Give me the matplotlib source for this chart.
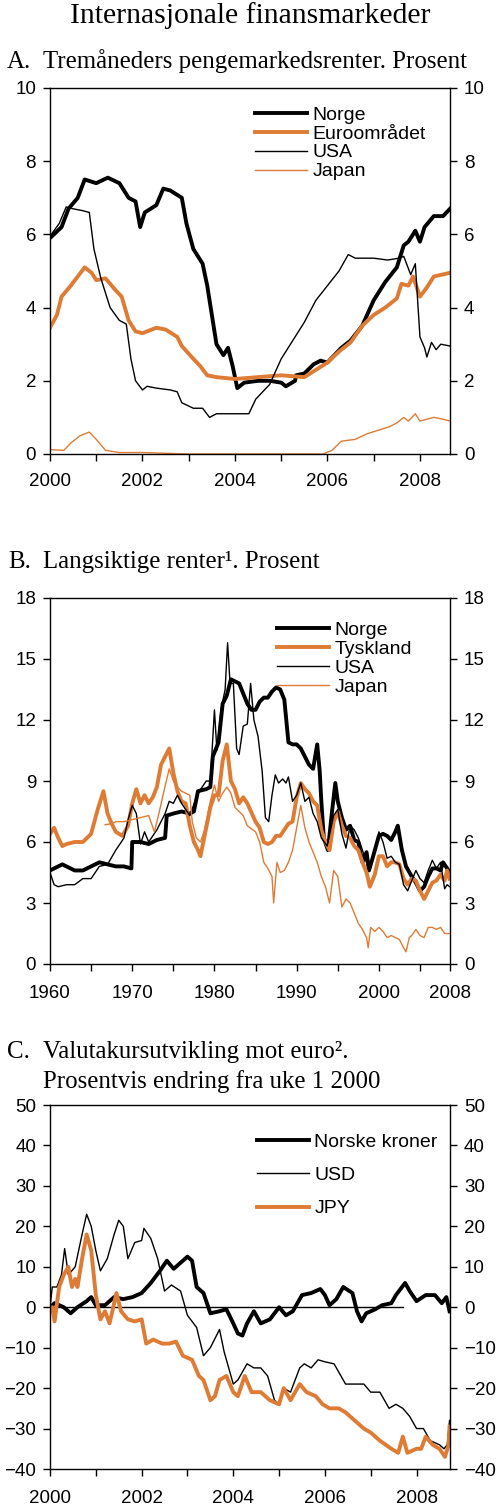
import numpy as np
import matplotlib.pyplot as plt

ORANGE = '#DE7B35'

# ---------- Panel A: tremåneders pengemarkedsrenter ----------
a_norge_x = [2000.0, 2000.25, 2000.4, 2000.6, 2000.75, 2001.0, 2001.25, 2001.5, 2001.7, 2001.85,
             2001.95, 2002.05, 2002.3, 2002.45, 2002.6, 2002.85, 2002.95, 2003.1, 2003.3, 2003.4,
             2003.5, 2003.6, 2003.75, 2003.85, 2003.95, 2004.05, 2004.2, 2004.5, 2004.75, 2005.0,
             2005.1, 2005.3, 2005.32, 2005.5, 2005.7, 2005.85, 2006.0, 2006.3, 2006.5, 2006.75,
             2007.0, 2007.25, 2007.5, 2007.65, 2007.75, 2007.9, 2008.0, 2008.1, 2008.3, 2008.5,
             2008.65]
a_norge = [5.9, 6.2, 6.7, 7.0, 7.5, 7.4, 7.55, 7.4, 7.0, 6.9,
           6.2, 6.6, 6.8, 7.25, 7.2, 7.0, 6.3, 5.6, 5.2, 4.6,
           3.8, 3.0, 2.7, 2.9, 2.4, 1.8, 1.95, 2.0, 2.0, 1.95,
           1.85, 2.0, 2.15, 2.2, 2.45, 2.55, 2.5, 2.9, 3.1, 3.5,
           4.2, 4.7, 5.1, 5.7, 5.8, 6.1, 5.8, 6.2, 6.5, 6.5,
           6.7]

a_euro_x = [2000.0, 2000.15, 2000.25, 2000.45, 2000.6, 2000.75, 2000.9, 2001.0, 2001.2, 2001.4,
            2001.55, 2001.7, 2001.85, 2002.0, 2002.3, 2002.5, 2002.75, 2002.85, 2003.1, 2003.25,
            2003.4, 2003.6, 2004.0, 2004.5, 2005.0, 2005.5, 2005.75, 2006.0, 2006.25, 2006.5,
            2006.75, 2007.0, 2007.25, 2007.5, 2007.6, 2007.75, 2007.85, 2008.0, 2008.15, 2008.3,
            2008.65]
a_euro = [3.45, 3.8, 4.3, 4.6, 4.85, 5.1, 4.95, 4.75, 4.8, 4.5,
          4.3, 3.65, 3.35, 3.3, 3.45, 3.4, 3.2, 2.95, 2.6, 2.4,
          2.15, 2.1, 2.05, 2.1, 2.15, 2.1, 2.3, 2.5, 2.8, 3.05,
          3.5, 3.8, 4.0, 4.25, 4.65, 4.6, 4.85, 4.3, 4.55, 4.85,
          4.95]

a_usa_x = [2000.0, 2000.2, 2000.35, 2000.5, 2000.7, 2000.85, 2000.95, 2001.1, 2001.3, 2001.5,
           2001.65, 2001.75, 2001.85, 2002.0, 2002.1, 2002.3, 2002.6, 2002.75, 2002.85, 2003.1,
           2003.3, 2003.45, 2003.6, 2004.0, 2004.3, 2004.45, 2004.75, 2005.0, 2005.25, 2005.5,
           2005.75, 2006.0, 2006.25, 2006.45, 2006.6, 2007.0, 2007.3, 2007.55, 2007.65, 2007.8,
           2007.9, 2008.0, 2008.1, 2008.15, 2008.25, 2008.35, 2008.45, 2008.65]
a_usa = [5.95, 6.3, 6.75, 6.7, 6.65, 6.6, 5.6, 4.8, 4.0, 3.65,
         3.55, 2.6, 2.0, 1.75, 1.85, 1.8, 1.75, 1.7, 1.4, 1.25,
         1.25, 1.0, 1.1, 1.1, 1.1, 1.5, 1.9, 2.6, 3.1, 3.6,
         4.2, 4.6, 5.0, 5.45, 5.35, 5.35, 5.3, 5.35, 5.4, 4.9,
         5.2, 3.2, 2.9, 2.65, 3.05, 2.85, 3.0, 2.95]

a_japan_x = [2000.0, 2000.3, 2000.45, 2000.65, 2000.85, 2001.0, 2001.2, 2001.5, 2002.0, 2003.0,
             2004.0, 2005.0, 2005.9, 2006.1, 2006.3, 2006.6, 2006.85, 2007.1, 2007.35, 2007.5,
             2007.65, 2007.75, 2007.9, 2008.0, 2008.3, 2008.5, 2008.65]
a_japan = [0.12, 0.1, 0.3, 0.5, 0.6, 0.4, 0.1, 0.04, 0.04, 0.0,
           0.0, 0.0, 0.0, 0.1, 0.35, 0.4, 0.55, 0.65, 0.75, 0.85,
           1.0, 0.9, 1.1, 0.9, 1.0, 0.95, 0.9]

# ---------- Panel B: langsiktige renter ----------
b_norge_x = [1960.0, 1961.5, 1962, 1963, 1964, 1965, 1966, 1967, 1968, 1969,
             1969.9, 1970.0, 1971, 1972, 1973, 1974, 1974.2, 1975, 1976, 1977,
             1977.5, 1978, 1979, 1979.5, 1979.8, 1980.5, 1981, 1981.5, 1982, 1982.5,
             1983, 1983.5, 1984, 1984.5, 1985, 1985.5, 1986, 1986.5, 1987, 1987.5,
             1988, 1988.5, 1989, 1989.5, 1990, 1990.5, 1991, 1991.5, 1992, 1992.5,
             1992.8, 1993, 1993.3, 1993.8, 1994.3, 1994.7, 1995, 1995.5, 1996, 1996.5,
             1997, 1997.5, 1998, 1998.5, 1998.8, 1999.3, 2000, 2000.5, 2001, 2001.5,
             2002, 2002.3, 2002.8, 2003.3, 2004, 2004.5, 2005, 2005.5, 2006, 2006.5,
             2007, 2007.5, 2007.8, 2008.3, 2008.6]
b_norge = [4.6, 4.9, 4.8, 4.6, 4.6, 4.8, 5.0, 4.9, 4.8, 4.8,
           4.7, 6.0, 6.0, 5.9, 6.1, 6.2, 7.3, 7.4, 7.5, 7.4,
           7.5, 8.5, 8.6, 8.7, 10.2, 10.9, 12.8, 13.2, 14.0, 13.9,
           13.8, 13.3, 12.8, 12.5, 12.5, 12.9, 13.1, 13.1, 13.4, 13.6,
           13.5, 13.0, 10.9, 10.8, 10.8, 10.6, 10.2, 9.8, 9.6, 10.8,
           9.5, 8.0, 6.2, 5.6, 7.5, 8.9, 8.0, 7.2, 6.6, 6.8,
           6.1, 6.0, 5.0, 5.5, 4.6, 5.3, 6.3, 6.4, 6.3, 6.1,
           6.5, 6.8, 5.6, 4.8, 4.3, 4.0, 3.6, 3.8, 4.3, 4.7,
           4.7, 4.6, 5.0, 4.7, 4.5]

b_tysk_x = [1960.0, 1960.5, 1961, 1961.5, 1962, 1963, 1964, 1965, 1965.8, 1966.5,
            1967, 1967.5, 1968, 1968.8, 1969.5, 1970, 1970.5, 1971, 1971.5, 1972,
            1972.5, 1973, 1973.5, 1974, 1974.5, 1975, 1975.5, 1976, 1976.5, 1977,
            1977.5, 1978, 1978.3, 1978.8, 1979.5, 1980, 1980.5, 1981, 1981.5, 1982,
            1982.5, 1983, 1983.5, 1984, 1985, 1985.5, 1986, 1986.5, 1987, 1987.5,
            1988, 1988.5, 1989, 1989.5, 1990, 1990.5, 1991, 1991.5, 1992, 1992.5,
            1993, 1993.5, 1994, 1994.5, 1995, 1995.5, 1996, 1996.5, 1997, 1997.5,
            1998, 1998.5, 1998.9, 1999.5, 2000, 2000.5, 2001, 2001.5, 2002, 2002.5,
            2003, 2003.5, 2004, 2004.5, 2005, 2005.5, 2006, 2006.5, 2007, 2007.5,
            2008, 2008.3, 2008.6]
b_tysk = [6.4, 6.7, 6.2, 5.8, 5.9, 6.0, 6.0, 6.4, 7.6, 8.5,
          7.4, 6.9, 6.5, 6.3, 6.8, 7.9, 8.6, 7.9, 8.3, 7.9,
          8.2, 8.7, 9.8, 10.2, 10.6, 9.4, 8.5, 8.0, 7.9, 6.8,
          6.0, 5.6, 5.3, 6.3, 7.7, 8.3, 8.3, 10.0, 10.8, 9.0,
          8.6, 7.9, 8.2, 7.9, 7.0, 6.7, 6.0, 5.9, 6.0, 6.3,
          6.3, 6.6, 6.9, 7.0, 8.2, 8.9, 8.6, 8.4, 8.0, 7.8,
          6.6, 6.0, 5.6, 7.0, 7.5, 6.8, 6.3, 6.2, 5.8, 5.6,
          5.0, 4.5, 3.8, 4.4, 5.3, 5.3, 4.8, 5.0, 5.0, 4.9,
          4.2, 3.9, 4.2, 4.1, 3.6, 3.2, 3.6, 4.0, 4.1, 4.4,
          4.1, 4.6, 4.2]

b_usa_x = [1960.0, 1960.5, 1961, 1962, 1963, 1964, 1965, 1966, 1967, 1968,
           1969, 1969.5, 1970, 1970.5, 1971, 1971.5, 1972, 1973, 1974, 1974.5,
           1975, 1975.5, 1976, 1977, 1978, 1979, 1979.5, 1980, 1980.3, 1980.8,
           1981.3, 1981.6, 1981.9, 1982.3, 1982.7, 1983, 1983.5, 1984, 1984.4, 1984.8,
           1985.3, 1985.8, 1986.2, 1986.6, 1987, 1987.4, 1987.8, 1988.3, 1988.7, 1989,
           1989.5, 1990, 1990.5, 1991, 1991.5, 1992, 1992.5, 1993, 1993.7, 1994.5,
           1995, 1995.5, 1996, 1996.5, 1997, 1997.5, 1998, 1998.8, 1999.5, 2000,
           2000.5, 2001, 2001.5, 2002, 2002.5, 2003, 2003.5, 2004, 2004.5, 2005,
           2005.5, 2006, 2006.5, 2007, 2007.5, 2008, 2008.3, 2008.6]
b_usa = [4.5, 3.9, 3.8, 3.9, 3.9, 4.2, 4.2, 4.8, 4.9, 5.6,
         6.2, 7.1, 7.8, 7.4, 5.9, 6.5, 6.0, 6.6, 7.4, 8.0,
         7.9, 8.3, 7.9, 7.3, 8.4, 9.0, 9.0, 12.5, 10.5, 12.5,
         13.5, 15.8, 13.8, 13.8, 10.6, 10.3, 11.7, 11.8, 13.8, 12.0,
         11.2, 9.5, 7.2, 7.0, 8.3, 9.3, 8.9, 9.1, 8.9, 9.2,
         8.0, 8.3, 8.9, 8.0, 8.2, 7.4, 7.0, 6.2, 5.8, 7.3,
         7.6, 6.4, 5.7, 6.8, 6.6, 6.2, 5.6, 4.6, 5.6, 6.5,
         6.0, 5.2, 5.3, 5.0, 4.9, 3.9, 3.6, 4.1, 4.6, 4.2,
         4.0, 4.6, 5.1, 4.7, 5.0, 3.7, 3.9, 3.8]

b_japan_x = [1966.7, 1967.5, 1968, 1969, 1970, 1971, 1972, 1972.7, 1973.3, 1973.8,
             1974.5, 1975, 1975.5, 1976, 1977, 1977.3, 1977.8, 1978.3, 1978.8, 1979.5,
             1980, 1980.5, 1981, 1981.5, 1982, 1982.5, 1983, 1983.5, 1984, 1985,
             1985.5, 1986, 1986.5, 1987, 1987.2, 1987.6, 1988, 1988.5, 1989, 1989.5,
             1990, 1990.5, 1991, 1991.5, 1992, 1992.5, 1993, 1993.5, 1994, 1994.5,
             1995, 1995.5, 1996, 1996.5, 1997, 1997.5, 1998, 1998.5, 1998.7, 1999,
             1999.5, 2000, 2000.5, 2001, 2001.5, 2002, 2002.5, 2003, 2003.3, 2003.7,
             2004, 2004.5, 2005, 2005.5, 2006, 2006.5, 2007, 2007.5, 2008, 2008.6]
b_japan = [6.85, 6.9, 7.0, 7.0, 7.1, 7.2, 7.3, 6.5, 7.5, 8.4,
           9.6, 9.0, 8.7, 8.5, 8.3, 7.0, 6.2, 6.0, 6.6, 8.0,
           8.8, 8.0, 8.4, 8.7, 8.4, 7.7, 7.5, 7.3, 6.8, 6.5,
           6.0, 5.0, 4.7, 4.3, 3.0, 5.0, 4.5, 4.6, 5.0, 5.6,
           6.7, 7.8, 6.7, 6.0, 5.5, 5.0, 4.3, 3.8, 3.0, 4.6,
           4.3, 2.8, 3.2, 3.0, 2.5, 2.0, 1.7, 1.3, 0.8, 1.8,
           1.6, 1.8, 1.6, 1.3, 1.4, 1.3, 1.2, 0.8, 0.6, 1.3,
           1.4, 1.7, 1.4, 1.3, 1.8, 1.8, 1.7, 1.8, 1.5, 1.5]

# ---------- Panel C: valutakursutvikling mot euro ----------
c_nok_x = [2000.0, 2000.1, 2000.3, 2000.45, 2000.6, 2000.8, 2000.9, 2001.0, 2001.2, 2001.4,
           2001.6, 2001.8, 2002.0, 2002.2, 2002.4, 2002.55, 2002.7, 2002.85, 2003.0, 2003.1,
           2003.2, 2003.35, 2003.5, 2003.7, 2003.85, 2004.0, 2004.1, 2004.2, 2004.3, 2004.45,
           2004.6, 2004.8, 2005.0, 2005.15, 2005.3, 2005.5, 2005.7, 2005.9, 2006.0, 2006.1,
           2006.25, 2006.4, 2006.6, 2006.7, 2006.8, 2006.9, 2007.1, 2007.25, 2007.45, 2007.55,
           2007.75, 2007.85, 2008.0, 2008.2, 2008.4, 2008.55, 2008.65, 2008.72]
c_nok = [0.0, 1.0, 0.0, -1.5, 0.0, 1.5, 2.5, 0.5, 0.5, 2.5,
         2.0, 2.5, 3.5, 6.0, 9.0, 11.5, 9.5, 11.0, 12.5, 11.5,
         5.0, 3.5, -1.5, -1.0, -0.5, -4.0, -6.5, -7.0, -4.0, -1.0,
         -4.0, -3.0, 0.0, -2.0, -1.0, 3.0, 3.5, 4.5, 3.0, 0.5,
         2.0, 5.0, 3.5, -1.0, -3.5, -1.5, -0.5, 0.5, 1.0, 3.0,
         6.0, 4.0, 1.5, 3.0, 3.0, 1.0, 2.5, -1.0]

c_usd_x = [2000.0, 2000.05, 2000.15, 2000.25, 2000.32, 2000.4, 2000.55, 2000.7, 2000.8, 2000.9,
           2001.0, 2001.1, 2001.25, 2001.4, 2001.5, 2001.6, 2001.7, 2001.85, 2002.0, 2002.05,
           2002.2, 2002.35, 2002.5, 2002.65, 2002.85, 2003.0, 2003.2, 2003.35, 2003.5, 2003.7,
           2003.8, 2003.9, 2004.0, 2004.1, 2004.3, 2004.45, 2004.6, 2004.75, 2004.9, 2005.0,
           2005.1, 2005.25, 2005.45, 2005.55, 2005.7, 2005.85, 2006.0, 2006.2, 2006.35, 2006.45,
           2006.7, 2006.85, 2007.0, 2007.2, 2007.4, 2007.55, 2007.7, 2007.85, 2008.0, 2008.15,
           2008.3, 2008.5, 2008.6, 2008.67, 2008.72]
c_usd = [0.0, 5.0, 5.0, 8.0, 14.5, 8.0, 10.0, 18.0, 23.0, 20.0,
         14.0, 9.0, 12.0, 18.0, 21.5, 20.0, 12.0, 16.0, 16.5, 19.5,
         17.0, 12.0, 4.0, 5.5, 4.0, -2.0, -5.0, -12.0, -10.0, -5.5,
         -11.0, -15.0, -19.0, -18.0, -14.0, -15.0, -15.0, -17.0, -23.0, -24.0,
         -20.0, -21.0, -15.0, -14.0, -15.0, -13.0, -13.5, -14.0, -17.0, -19.0,
         -19.0, -19.0, -21.0, -21.0, -25.0, -24.0, -25.0, -27.0, -30.0, -30.0,
         -33.0, -34.0, -35.0, -34.0, -28.0]

c_jpy_x = [2000.0, 2000.05, 2000.1, 2000.2, 2000.3, 2000.4, 2000.48, 2000.55, 2000.6, 2000.7,
           2000.8, 2000.9, 2001.0, 2001.1, 2001.2, 2001.3, 2001.45, 2001.55, 2001.7, 2001.85,
           2002.0, 2002.1, 2002.25, 2002.45, 2002.6, 2002.75, 2002.9, 2003.1, 2003.25, 2003.35,
           2003.5, 2003.6, 2003.7, 2003.85, 2004.0, 2004.1, 2004.25, 2004.4, 2004.6, 2004.8,
           2005.0, 2005.1, 2005.25, 2005.45, 2005.6, 2005.8, 2005.95, 2006.1, 2006.3, 2006.45,
           2006.65, 2006.85, 2007.0, 2007.2, 2007.45, 2007.6, 2007.7, 2007.8, 2008.0, 2008.1,
           2008.2, 2008.35, 2008.5, 2008.62, 2008.7, 2008.72]
c_jpy = [-1.0, 0.0, -3.5, 5.0, 8.0, 10.0, 5.0, 7.0, 5.0, 12.0,
         18.0, 14.0, 3.0, -3.0, -1.0, -4.0, 3.5, -1.0, -3.0, -3.5,
         -3.0, -9.0, -8.0, -9.0, -9.0, -8.5, -12.0, -13.0, -17.0, -18.0,
         -23.0, -22.0, -18.0, -17.0, -21.0, -22.0, -17.0, -21.0, -21.0, -23.0,
         -24.0, -20.0, -23.0, -19.0, -21.0, -22.0, -24.0, -25.0, -25.0, -26.0,
         -28.0, -30.0, -31.0, -33.0, -35.0, -36.0, -32.0, -36.0, -35.0, -35.0,
         -32.0, -34.0, -35.0, -37.0, -34.0, -29.5]

c_zero_x = [2000.0, 2007.71]
c_zero = [0.0, 0.0]

plt.rcParams['font.family'] = ['Liberation Sans', 'DejaVu Sans']
SERIF = ['Liberation Serif', 'DejaVu Serif']

fig = plt.figure(figsize=(5, 15.11), dpi=100)
W, H = 500, 1511

TICK_FS = 13.5
LEG_FS = 14
SUB_FS = 17.9


def make_axes(top_px, bottom_px):
    return fig.add_axes([50 / W, 1 - bottom_px / H, 400 / W, (bottom_px - top_px) / H])


def style_axes(ax, xpad):
    for s in ax.spines.values():
        s.set_linewidth(1.0)
    ax.tick_params(axis='y', which='both', direction='out', length=5, width=1.0,
                   left=True, right=True, labelleft=True, labelright=True,
                   labelsize=TICK_FS, pad=5)
    ax.tick_params(axis='x', which='both', direction='out', length=5, width=1.0,
                   labelsize=TICK_FS, pad=xpad, top=False)


def add_legend(ax, x, y, spacing):
    ax.legend(loc='upper left', bbox_to_anchor=(x, y), frameon=False, fontsize=LEG_FS,
              handlelength=2.65, handletextpad=0.3, labelspacing=spacing,
              borderpad=0, borderaxespad=0)


thick = 2.8
thin = 1.0

# Title
fig.text(0.5, 1 - 16 / H, 'Internasjonale finansmarkeder', ha='center', va='center',
         fontsize=21.4, family=SERIF)

# Panel A
axA = make_axes(88, 454)
axA.plot(a_norge_x, a_norge, color='black', lw=thick, label='Norge')
axA.plot(a_euro_x, a_euro, color=ORANGE, lw=thick, label='Euroområdet')
axA.plot(a_usa_x, a_usa, color='black', lw=thin, label='USA')
axA.plot(a_japan_x, a_japan, color=ORANGE, lw=thin, label='Japan')
axA.set_xlim(2000, 2008.65)
axA.set_ylim(0, 10)
axA.set_yticks(np.arange(0, 11, 2))
axA.set_xticks(np.arange(2000, 2009, 1))
axA.set_xticklabels([str(y) if y % 2 == 0 else '' for y in range(2000, 2009)])
style_axes(axA, 8.5)
add_legend(axA, 0.5125, 0.951, 0.07)
fig.text(7 / W, 1 - 68 / H, 'A.', fontsize=SUB_FS, family=SERIF, va='baseline')
fig.text(43 / W, 1 - 68 / H, 'Tremåneders pengemarkedsrenter. Prosent', fontsize=SUB_FS,
         family=SERIF, va='baseline')

# Panel B
axB = make_axes(598, 964)
axB.plot(b_norge_x, b_norge, color='black', lw=thick, label='Norge')
axB.plot(b_tysk_x, b_tysk, color=ORANGE, lw=thick, label='Tyskland')
axB.plot(b_usa_x, b_usa, color='black', lw=thin, label='USA')
axB.plot(b_japan_x, b_japan, color=ORANGE, lw=thin, label='Japan')
axB.set_xlim(1960, 2008.65)
axB.set_ylim(0, 18)
axB.set_yticks(np.arange(0, 19, 3))
b_ticks = [1960, 1965, 1970, 1975, 1980, 1985, 1990, 1995, 2000, 2005, 2008.65]
b_labels = ['1960', '', '1970', '', '1980', '', '1990', '', '2000', '', '2008']
axB.set_xticks(b_ticks)
axB.set_xticklabels(b_labels)
style_axes(axB, 10)
add_legend(axB, 0.5675, 0.937, 0.07)
fig.text(8 / W, 1 - 568 / H, 'B.', fontsize=SUB_FS, family=SERIF, va='baseline')
fig.text(43 / W, 1 - 568 / H, 'Langsiktige renter\u00b9. Prosent', fontsize=SUB_FS,
         family=SERIF, va='baseline')

# Panel C
axC = make_axes(1105, 1469)
axC.plot(c_zero_x, c_zero, color='black', lw=thin)
axC.plot(c_nok_x, c_nok, color='black', lw=thick, label='Norske kroner')
axC.plot(c_usd_x, c_usd, color='black', lw=thin, label='USD')
axC.plot(c_jpy_x, c_jpy, color=ORANGE, lw=thick, label='JPY')
axC.set_xlim(2000, 2008.73)
axC.set_ylim(-40, 50)
axC.set_yticks(np.arange(-40, 51, 10))
axC.set_xticks(np.arange(2000, 2009, 1))
axC.set_xticklabels([str(y) if y % 2 == 0 else '' for y in range(2000, 2009)])
style_axes(axC, 10)
add_legend(axC, 0.5175, 0.923, 0.81)
fig.text(7 / W, 1 - 1058 / H, 'C.', fontsize=SUB_FS, family=SERIF, va='baseline')
fig.text(43 / W, 1 - 1058 / H, 'Valutakursutvikling mot euro\u00b2.', fontsize=SUB_FS,
         family=SERIF, va='baseline')
fig.text(43 / W, 1 - 1088 / H, 'Prosentvis endring fra uke 1 2000', fontsize=SUB_FS,
         family=SERIF, va='baseline')

fig.savefig('out.png', dpi=100)
